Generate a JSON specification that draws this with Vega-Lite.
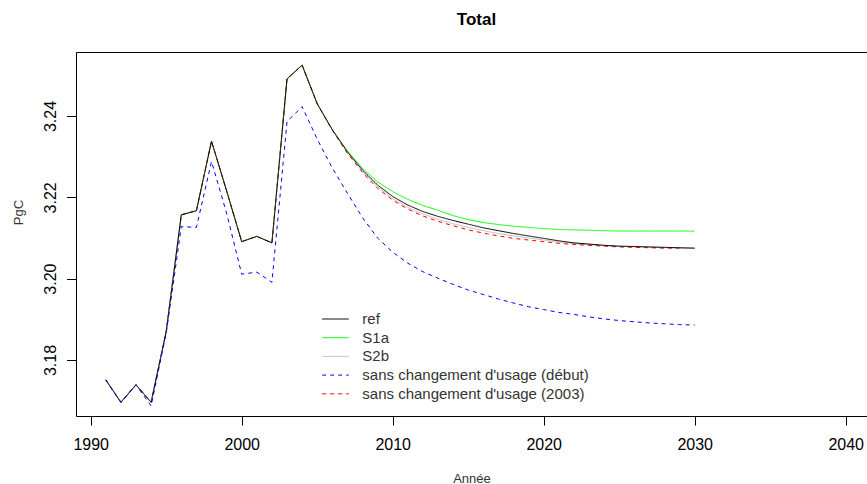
{
  "$schema": "https://vega.github.io/schema/vega-lite/v6.json",
  "width": 791,
  "height": 364,
  "autosize": {"type": "none"},
  "padding": {"left": 76, "top": 52, "right": 0, "bottom": 68},
  "background": "white",
  "title": {"text": "Total", "fontSize": 17, "fontWeight": "bold", "font": "Liberation Sans", "color": "black", "anchor": "middle", "offset": 27, "baseline": "alphabetic", "dx": 5, "dy": 17},
  "config": {
    "view": {"stroke": "black", "strokeWidth": 1},
    "font": "Liberation Sans"
  },
  "data": {"values": [
    {"annee":1991,"serie":"S1a","v":3.1751},{"annee":1992,"serie":"S1a","v":3.1696},{"annee":1993,"serie":"S1a","v":3.1739},{"annee":1994,"serie":"S1a","v":3.1696},{"annee":1995,"serie":"S1a","v":3.1870},{"annee":1996,"serie":"S1a","v":3.2157},{"annee":1997,"serie":"S1a","v":3.2167},{"annee":1998,"serie":"S1a","v":3.2338},{"annee":1999,"serie":"S1a","v":3.2216},{"annee":2000,"serie":"S1a","v":3.2091},{"annee":2001,"serie":"S1a","v":3.2104},{"annee":2002,"serie":"S1a","v":3.2088},{"annee":2003,"serie":"S1a","v":3.2491},{"annee":2004,"serie":"S1a","v":3.2525},{"annee":2005,"serie":"S1a","v":3.2430},{"annee":2006,"serie":"S1a","v":3.2366},{"annee":2007,"serie":"S1a","v":3.2314},{"annee":2008,"serie":"S1a","v":3.2271},{"annee":2009,"serie":"S1a","v":3.2238},{"annee":2010,"serie":"S1a","v":3.2214},{"annee":2011,"serie":"S1a","v":3.2195},{"annee":2012,"serie":"S1a","v":3.2180},{"annee":2013,"serie":"S1a","v":3.2168},{"annee":2014,"serie":"S1a","v":3.2155},{"annee":2015,"serie":"S1a","v":3.2145},{"annee":2016,"serie":"S1a","v":3.2138},{"annee":2017,"serie":"S1a","v":3.2133},{"annee":2018,"serie":"S1a","v":3.2129},{"annee":2019,"serie":"S1a","v":3.2126},{"annee":2020,"serie":"S1a","v":3.2123},{"annee":2021,"serie":"S1a","v":3.2121},{"annee":2022,"serie":"S1a","v":3.2120},{"annee":2023,"serie":"S1a","v":3.2119},{"annee":2024,"serie":"S1a","v":3.2118},{"annee":2025,"serie":"S1a","v":3.2117},{"annee":2026,"serie":"S1a","v":3.2117},{"annee":2027,"serie":"S1a","v":3.2117},{"annee":2028,"serie":"S1a","v":3.2117},{"annee":2029,"serie":"S1a","v":3.2117},{"annee":2030,"serie":"S1a","v":3.2117},
    {"annee":1991,"serie":"S2b","v":3.1751},{"annee":1992,"serie":"S2b","v":3.1696},{"annee":1993,"serie":"S2b","v":3.1739},{"annee":1994,"serie":"S2b","v":3.1696},{"annee":1995,"serie":"S2b","v":3.1870},{"annee":1996,"serie":"S2b","v":3.2157},{"annee":1997,"serie":"S2b","v":3.2167},{"annee":1998,"serie":"S2b","v":3.2338},{"annee":1999,"serie":"S2b","v":3.2216},{"annee":2000,"serie":"S2b","v":3.2091},{"annee":2001,"serie":"S2b","v":3.2104},{"annee":2002,"serie":"S2b","v":3.2088},{"annee":2003,"serie":"S2b","v":3.2491},{"annee":2004,"serie":"S2b","v":3.2525},{"annee":2005,"serie":"S2b","v":3.2430},{"annee":2006,"serie":"S2b","v":3.2366},{"annee":2007,"serie":"S2b","v":3.2310},{"annee":2008,"serie":"S2b","v":3.2264},{"annee":2009,"serie":"S2b","v":3.2226},{"annee":2010,"serie":"S2b","v":3.2197},{"annee":2011,"serie":"S2b","v":3.2175},{"annee":2012,"serie":"S2b","v":3.2159},{"annee":2013,"serie":"S2b","v":3.2146},{"annee":2014,"serie":"S2b","v":3.2135},{"annee":2015,"serie":"S2b","v":3.2126},{"annee":2016,"serie":"S2b","v":3.2118},{"annee":2017,"serie":"S2b","v":3.2111},{"annee":2018,"serie":"S2b","v":3.2105},{"annee":2019,"serie":"S2b","v":3.2100},{"annee":2020,"serie":"S2b","v":3.2095},{"annee":2021,"serie":"S2b","v":3.2090},{"annee":2022,"serie":"S2b","v":3.2086},{"annee":2023,"serie":"S2b","v":3.2083},{"annee":2024,"serie":"S2b","v":3.2081},{"annee":2025,"serie":"S2b","v":3.2079},{"annee":2026,"serie":"S2b","v":3.2078},{"annee":2027,"serie":"S2b","v":3.2077},{"annee":2028,"serie":"S2b","v":3.2076},{"annee":2029,"serie":"S2b","v":3.2075},{"annee":2030,"serie":"S2b","v":3.2075},
    {"annee":1991,"serie":"sans changement d'usage (2003)","v":3.1751},{"annee":1992,"serie":"sans changement d'usage (2003)","v":3.1696},{"annee":1993,"serie":"sans changement d'usage (2003)","v":3.1739},{"annee":1994,"serie":"sans changement d'usage (2003)","v":3.1696},{"annee":1995,"serie":"sans changement d'usage (2003)","v":3.1870},{"annee":1996,"serie":"sans changement d'usage (2003)","v":3.2157},{"annee":1997,"serie":"sans changement d'usage (2003)","v":3.2167},{"annee":1998,"serie":"sans changement d'usage (2003)","v":3.2338},{"annee":1999,"serie":"sans changement d'usage (2003)","v":3.2216},{"annee":2000,"serie":"sans changement d'usage (2003)","v":3.2091},{"annee":2001,"serie":"sans changement d'usage (2003)","v":3.2104},{"annee":2002,"serie":"sans changement d'usage (2003)","v":3.2088},{"annee":2003,"serie":"sans changement d'usage (2003)","v":3.2491},{"annee":2004,"serie":"sans changement d'usage (2003)","v":3.2525},{"annee":2005,"serie":"sans changement d'usage (2003)","v":3.2430},{"annee":2006,"serie":"sans changement d'usage (2003)","v":3.2365},{"annee":2007,"serie":"sans changement d'usage (2003)","v":3.2308},{"annee":2008,"serie":"sans changement d'usage (2003)","v":3.2261},{"annee":2009,"serie":"sans changement d'usage (2003)","v":3.2222},{"annee":2010,"serie":"sans changement d'usage (2003)","v":3.2193},{"annee":2011,"serie":"sans changement d'usage (2003)","v":3.2171},{"annee":2012,"serie":"sans changement d'usage (2003)","v":3.2154},{"annee":2013,"serie":"sans changement d'usage (2003)","v":3.2141},{"annee":2014,"serie":"sans changement d'usage (2003)","v":3.2130},{"annee":2015,"serie":"sans changement d'usage (2003)","v":3.2120},{"annee":2016,"serie":"sans changement d'usage (2003)","v":3.2112},{"annee":2017,"serie":"sans changement d'usage (2003)","v":3.2105},{"annee":2018,"serie":"sans changement d'usage (2003)","v":3.2099},{"annee":2019,"serie":"sans changement d'usage (2003)","v":3.2095},{"annee":2020,"serie":"sans changement d'usage (2003)","v":3.2091},{"annee":2021,"serie":"sans changement d'usage (2003)","v":3.2087},{"annee":2022,"serie":"sans changement d'usage (2003)","v":3.2084},{"annee":2023,"serie":"sans changement d'usage (2003)","v":3.2082},{"annee":2024,"serie":"sans changement d'usage (2003)","v":3.2080},{"annee":2025,"serie":"sans changement d'usage (2003)","v":3.2078},{"annee":2026,"serie":"sans changement d'usage (2003)","v":3.2077},{"annee":2027,"serie":"sans changement d'usage (2003)","v":3.2076},{"annee":2028,"serie":"sans changement d'usage (2003)","v":3.2075},{"annee":2029,"serie":"sans changement d'usage (2003)","v":3.2075},
    {"annee":1991,"serie":"ref","v":3.1751},{"annee":1992,"serie":"ref","v":3.1696},{"annee":1993,"serie":"ref","v":3.1739},{"annee":1994,"serie":"ref","v":3.1696},{"annee":1995,"serie":"ref","v":3.1870},{"annee":1996,"serie":"ref","v":3.2157},{"annee":1997,"serie":"ref","v":3.2167},{"annee":1998,"serie":"ref","v":3.2338},{"annee":1999,"serie":"ref","v":3.2216},{"annee":2000,"serie":"ref","v":3.2091},{"annee":2001,"serie":"ref","v":3.2104},{"annee":2002,"serie":"ref","v":3.2088},{"annee":2003,"serie":"ref","v":3.2491},{"annee":2004,"serie":"ref","v":3.2525},{"annee":2005,"serie":"ref","v":3.2430},{"annee":2006,"serie":"ref","v":3.2366},{"annee":2007,"serie":"ref","v":3.2312},{"annee":2008,"serie":"ref","v":3.2267},{"annee":2009,"serie":"ref","v":3.2230},{"annee":2010,"serie":"ref","v":3.2202},{"annee":2011,"serie":"ref","v":3.2181},{"annee":2012,"serie":"ref","v":3.2165},{"annee":2013,"serie":"ref","v":3.2153},{"annee":2014,"serie":"ref","v":3.2143},{"annee":2015,"serie":"ref","v":3.2134},{"annee":2016,"serie":"ref","v":3.2125},{"annee":2017,"serie":"ref","v":3.2118},{"annee":2018,"serie":"ref","v":3.2111},{"annee":2019,"serie":"ref","v":3.2105},{"annee":2020,"serie":"ref","v":3.2099},{"annee":2021,"serie":"ref","v":3.2093},{"annee":2022,"serie":"ref","v":3.2088},{"annee":2023,"serie":"ref","v":3.2085},{"annee":2024,"serie":"ref","v":3.2082},{"annee":2025,"serie":"ref","v":3.2080},{"annee":2026,"serie":"ref","v":3.2079},{"annee":2027,"serie":"ref","v":3.2078},{"annee":2028,"serie":"ref","v":3.2077},{"annee":2029,"serie":"ref","v":3.2076},{"annee":2030,"serie":"ref","v":3.2075},
    {"annee":1991,"serie":"sans changement d'usage (début)","v":3.1751},{"annee":1992,"serie":"sans changement d'usage (début)","v":3.1696},{"annee":1993,"serie":"sans changement d'usage (début)","v":3.1739},{"annee":1994,"serie":"sans changement d'usage (début)","v":3.1687},{"annee":1995,"serie":"sans changement d'usage (début)","v":3.1866},{"annee":1996,"serie":"sans changement d'usage (début)","v":3.2128},{"annee":1997,"serie":"sans changement d'usage (début)","v":3.2126},{"annee":1998,"serie":"sans changement d'usage (début)","v":3.2288},{"annee":1999,"serie":"sans changement d'usage (début)","v":3.2161},{"annee":2000,"serie":"sans changement d'usage (début)","v":3.2011},{"annee":2001,"serie":"sans changement d'usage (début)","v":3.2016},{"annee":2002,"serie":"sans changement d'usage (début)","v":3.1991},{"annee":2003,"serie":"sans changement d'usage (début)","v":3.2386},{"annee":2004,"serie":"sans changement d'usage (début)","v":3.2423},{"annee":2005,"serie":"sans changement d'usage (début)","v":3.2343},{"annee":2006,"serie":"sans changement d'usage (début)","v":3.2272},{"annee":2007,"serie":"sans changement d'usage (début)","v":3.2210},{"annee":2008,"serie":"sans changement d'usage (début)","v":3.2150},{"annee":2009,"serie":"sans changement d'usage (début)","v":3.2100},{"annee":2010,"serie":"sans changement d'usage (début)","v":3.2065},{"annee":2011,"serie":"sans changement d'usage (début)","v":3.2038},{"annee":2012,"serie":"sans changement d'usage (début)","v":3.2017},{"annee":2013,"serie":"sans changement d'usage (début)","v":3.2001},{"annee":2014,"serie":"sans changement d'usage (début)","v":3.1986},{"annee":2015,"serie":"sans changement d'usage (début)","v":3.1972},{"annee":2016,"serie":"sans changement d'usage (début)","v":3.1961},{"annee":2017,"serie":"sans changement d'usage (début)","v":3.1950},{"annee":2018,"serie":"sans changement d'usage (début)","v":3.1940},{"annee":2019,"serie":"sans changement d'usage (début)","v":3.1931},{"annee":2020,"serie":"sans changement d'usage (début)","v":3.1924},{"annee":2021,"serie":"sans changement d'usage (début)","v":3.1917},{"annee":2022,"serie":"sans changement d'usage (début)","v":3.1912},{"annee":2023,"serie":"sans changement d'usage (début)","v":3.1906},{"annee":2024,"serie":"sans changement d'usage (début)","v":3.1901},{"annee":2025,"serie":"sans changement d'usage (début)","v":3.1897},{"annee":2026,"serie":"sans changement d'usage (début)","v":3.1894},{"annee":2027,"serie":"sans changement d'usage (début)","v":3.1891},{"annee":2028,"serie":"sans changement d'usage (début)","v":3.1889},{"annee":2029,"serie":"sans changement d'usage (début)","v":3.1887},{"annee":2030,"serie":"sans changement d'usage (début)","v":3.1886}
  ]},
  "mark": {"type": "line", "strokeWidth": 1, "clip": true},
  "encoding": {
    "x": {
      "field": "annee", "type": "quantitative",
      "scale": {"domain": [1989.026, 2041.41], "nice": false, "zero": false},
      "axis": {"title": "Année", "values": [1990, 2000, 2010, 2020, 2030, 2040], "format": "d", "grid": false, "domain": false, "tickSize": 9, "tickColor": "black", "tickWidth": 1, "labelFontSize": 16, "labelColor": "black", "labelPadding": 11, "labelBaseline": "top", "labelFlush": false, "labelOverlap": false, "titleFontSize": 13, "titleFontWeight": "normal", "titleColor": "#333333", "titleY": 62, "titleBaseline": "middle"}
    },
    "y": {
      "field": "v", "type": "quantitative",
      "scale": {"domain": [3.16623, 3.25573], "nice": false, "zero": false},
      "axis": {"title": "PgC", "values": [3.18, 3.2, 3.22, 3.24], "format": ".2f", "grid": false, "domain": false, "tickSize": 9.5, "tickColor": "black", "tickWidth": 1, "labelAngle": -90, "labelAlign": "center", "labelBaseline": "alphabetic", "labelPadding": 11.5, "labelFontSize": 16, "labelColor": "black", "labelOverlap": false, "titleFontSize": 13, "titleFontWeight": "normal", "titleColor": "#333333", "titleAngle": -90, "titleX": -58, "titleY": 160, "titleAlign": "center", "titleBaseline": "middle"}
    },
    "color": {
      "field": "serie", "type": "nominal",
      "scale": {"domain": ["ref", "S1a", "S2b", "sans changement d'usage (début)", "sans changement d'usage (2003)"], "range": ["#000000", "#00FF00", "#BEBEBE", "#0000FF", "#FF0000"]},
      "legend": {
        "orient": "none", "legendX": 249.5, "legendY": 257, "title": null,
        "symbolType": "M-1.4,0H1.4", "symbolSize": 361, "symbolStrokeWidth": 1,
        "labelFontSize": 15, "labelColor": "#333333", "labelOffset": 16.8, "rowPadding": 0.7, "padding": 0, "labelLimit": 0,
        "encode": {"symbols": {"update": {"stroke": {"signal": "scale('color', datum.value)"}}}}
      }
    },
    "strokeDash": {
      "field": "serie", "type": "nominal",
      "scale": {"domain": ["ref", "S1a", "S2b", "sans changement d'usage (début)", "sans changement d'usage (2003)"], "range": [[1, 0], [1, 0], [1, 0], [4, 4], [4, 4]]},
      "legend": null
    }
  }
}
